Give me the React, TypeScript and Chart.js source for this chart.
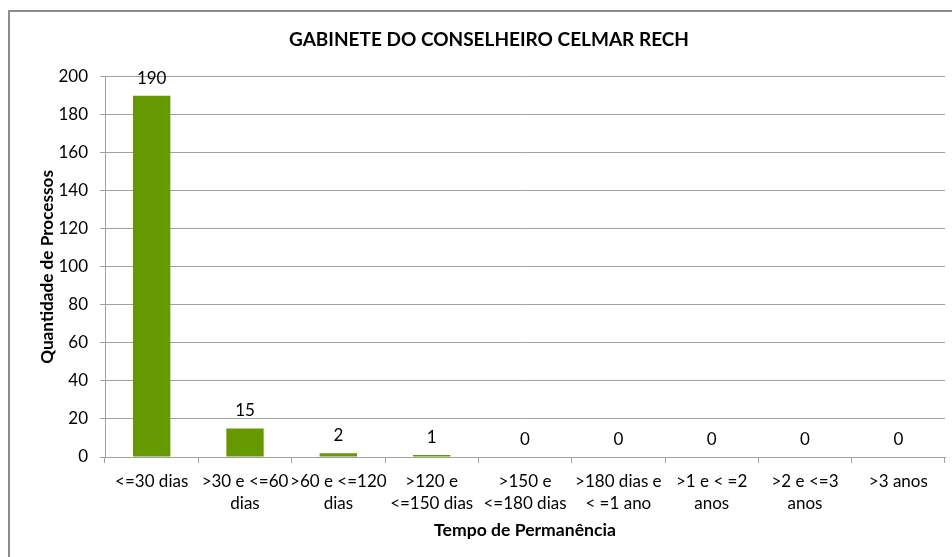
import React, { useEffect, useRef } from "react";
import { Chart, registerables } from "chart.js";

Chart.register(...registerables);

const chartTitle = "GABINETE DO CONSELHEIRO CELMAR RECH";
const xAxisTitle = "Tempo de Permanência";
const yAxisTitle = "Quantidade de Processos";
const categories: string[][] = [
  ["<=30 dias"],
  [">30 e <=60", "dias"],
  [">60 e <=120", "dias"],
  [">120 e", "<=150 dias"],
  [">150 e", "<=180 dias"],
  [">180 dias e", "< =1 ano"],
  [">1 e < =2", "anos"],
  [">2 e <=3", "anos"],
  [">3 anos"],
];
const values: number[] = [190, 15, 2, 1, 0, 0, 0, 0, 0];
const yMin = 0;
const yMax = 200;
const yStep = 20;

const FONT = "Lato";

const valueLabels = {
  id: "valueLabels",
  afterDatasetsDraw(chart: any) {
    const ctx = chart.ctx;
    const meta = chart.getDatasetMeta(0);
    ctx.save();
    ctx.font = `17px ${FONT}`;
    ctx.fillStyle = "#000";
    ctx.textAlign = "center";
    ctx.textBaseline = "alphabetic";
    meta.data.forEach((bar: any, i: number) => {
      ctx.fillText(String(values[i]), bar.x, bar.y - 12);
    });
    ctx.restore();
  },
};

export default function App() {
  const ref = useRef<HTMLCanvasElement>(null);
  useEffect(() => {
    if (!ref.current) return;
    const chart = new Chart(ref.current, {
      type: "bar",
      data: {
        labels: categories as any,
        datasets: [
          {
            data: values,
            backgroundColor: "#669900",
            borderWidth: 0,
            barPercentage: 0.4,
            categoryPercentage: 1,
          },
        ],
      },
      plugins: [valueLabels],
      options: {
        responsive: false,
        animation: false,
        layout: { padding: { left: 33, right: 7, top: 0, bottom: 12 } },
        plugins: {
          legend: { display: false },
          tooltip: { enabled: false },
          title: {
            display: true,
            text: chartTitle,
            color: "#000",
            font: { family: FONT, size: 19, weight: "bold", lineHeight: 1.2 },
            padding: { top: 28, bottom: 26 },
          },
        },
        scales: {
          x: {
            afterFit: (s: any) => {
              s.height = 88;
            },
            grid: {
              offset: true,
              drawOnChartArea: false,
              drawTicks: true,
              tickLength: 6,
              color: "#a0a0a0",
            },
            border: { display: true, color: "#a0a0a0" },
            ticks: {
              color: "#000",
              font: { family: FONT, size: 17, lineHeight: 1.3 },
              maxRotation: 0,
              autoSkip: false,
              padding: 7,
            },
            title: {
              display: true,
              text: xAxisTitle,
              color: "#000",
              font: { family: FONT, size: 17.6, weight: "bold", lineHeight: 1.2 },
              padding: { top: 4, bottom: 4 },
            },
          },
          y: {
            min: yMin,
            max: yMax,
            afterFit: (s: any) => {
              s.width = 72;
            },
            grid: { color: "#a0a0a0", tickLength: 5 },
            border: { display: true, color: "#a0a0a0" },
            ticks: {
              stepSize: yStep,
              color: "#000",
              font: { family: FONT, size: 17 },
              padding: 12,
            },
            title: {
              display: true,
              text: yAxisTitle,
              color: "#000",
              font: { family: FONT, size: 17.2, weight: "bold", lineHeight: 1.2 },
              padding: { top: 4, bottom: 4 },
            },
          },
        },
      },
    });
    return () => chart.destroy();
  }, []);

  return (
    <div style={{ position: "fixed", left: 0, top: 0, width: 952, height: 557, overflow: "hidden", background: "#fff" }}>
      <div
        style={{
          position: "absolute",
          left: 8,
          top: 10,
          width: 1000,
          height: 600,
          borderTop: "2px solid #8c8c8c",
          borderLeft: "2px solid #8c8c8c",
          boxSizing: "border-box",
        }}
      />
      <canvas ref={ref} width={952} height={557} style={{ position: "absolute", left: 0, top: 0, display: "block" }} />
    </div>
  );
}
